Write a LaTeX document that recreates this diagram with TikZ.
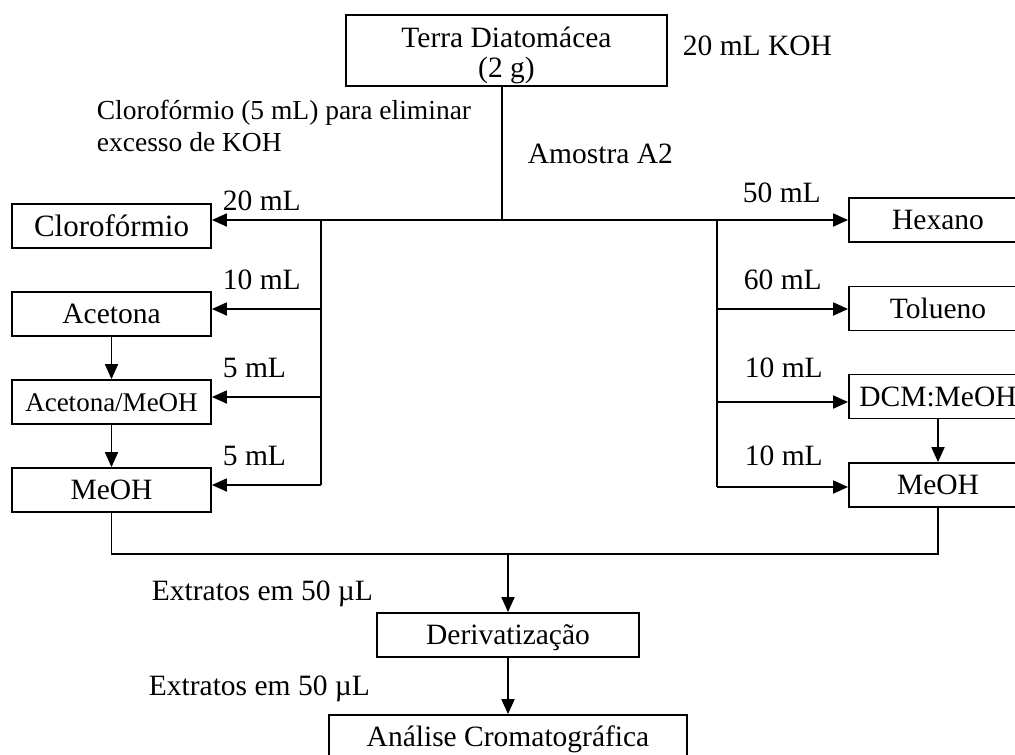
\documentclass[tikz,border=0pt]{standalone}
\usepackage{fontspec}
\setmainfont{Liberation Serif}
\usetikzlibrary{arrows.meta}
\begin{document}
\begin{tikzpicture}[x=1pt,y=-1pt,
  line width=1.8pt,
  font=\fontsize{29.5}{29}\selectfont,
  box/.style={draw,inner sep=0pt,text height=19.5pt,text depth=0pt,minimum height=44pt},
  lbox/.style={box,minimum width=199pt},
  rbox/.style={box,minimum width=178pt},
  lbl/.style={anchor=base west,inner sep=0pt},
  note/.style={lbl,font=\fontsize{27.5}{32}\selectfont},
  arr/.style={-{Triangle[length=15pt,width=13pt]}},
]
\clip (0,0) rectangle (1015,755);

% starting sample
\node[draw,inner sep=0pt,minimum width=321pt,minimum height=71pt,align=center,
  font=\fontsize{29.5}{29.5}\selectfont]
  (terra) at (506.5,50.5) {\rule{0pt}{30pt}Terra Diatomácea\\(2 g)};
\node[lbl] (koh) at (682,55) {20 mL KOH};
\node[note] (cl1) at (96,119) {Clorofórmio (5 mL) para eliminar};
\node[note] (cl2) at (96,151) {excesso de KOH};
\node[lbl] (amostra) at (527,163) {Amostra A2};

% left solvent sequence
\node[lbox,font=\fontsize{31}{31}\selectfont,text height=20.5pt] (clor) at (111.5,226) {Clorofórmio};
\node[lbox] (acet) at (111.5,314) {Acetona};
\node[lbox,font=\fontsize{27}{27}\selectfont,text height=18pt] (acme) at (111.5,402) {Acetona/MeOH};
\node[lbox] (meohL) at (111.5,490) {MeOH};

% right solvent sequence
\node[rbox] (hex) at (938,220) {Hexano};
\node[rbox] (tol) at (938,308.5) {Tolueno};
\node[rbox] (dcm) at (938,396.5) {DCM:MeOH};
\node[rbox] (meohR) at (938,485) {MeOH};

% volumes
\node[lbl] (v1) at (222,210) {20 mL};
\node[lbl] (v2) at (222,289) {10 mL};
\node[lbl] (v3) at (222,377) {5 mL};
\node[lbl] (v4) at (222,465) {5 mL};
\node[lbl] (v5) at (742,202) {50 mL};
\node[lbl] (v6) at (743,289) {60 mL};
\node[lbl] (v7) at (744,377) {10 mL};
\node[lbl] (v8) at (744,465) {10 mL};

% final steps
\node[box,minimum width=262pt] (deriv) at (508,635) {Derivatização};
\node[box,minimum width=358pt] (anal) at (508,737) {Análise Cromatográfica};
\node[lbl] (ext1) at (151,600) {Extratos em 50 µL};
\node[lbl] (ext2) at (148,695) {Extratos em 50 µL};

% branching points
\coordinate (jT) at (502,220);
\coordinate (jL) at (321,220);
\coordinate (jR) at (717,220);
\coordinate (aL1) at (321,309);
\coordinate (aL2) at (321,397);
\coordinate (bL) at (321,485);
\coordinate (aR1) at (717,309);
\coordinate (aR2) at (717,402);
\coordinate (bR) at (717,487);
\coordinate (m) at (508,554);

% connectors
\draw (terra.south -| jT) -- (jT);
\draw (jL) -- (jR);
\draw (jL) -- (bL);
\draw (jR) -- (bR);
\draw[arr] (jL) -- (jL -| clor.east);
\draw[arr] (aL1) -- (aL1 -| acet.east);
\draw[arr] (aL2) -- (aL2 -| acme.east);
\draw[arr] (bL) -- (bL -| meohL.east);
\draw[arr] (jR) -- (jR -| hex.west);
\draw[arr] (aR1) -- (aR1 -| tol.west);
\draw[arr] (aR2) -- (aR2 -| dcm.west);
\draw[arr] (bR) -- (bR -| meohR.west);
\draw[arr] (acet.south) -- (acme.north);
\draw[arr] (acme.south) -- (meohL.north);
\draw[arr] (dcm.south) -- (meohR.north);
\draw (meohL.south) |- (m);
\draw (meohR.south) |- (m);
\draw[arr] (m) -- (deriv.north);
\draw[arr] (deriv.south) -- (anal.north);
\end{tikzpicture}
\end{document}
